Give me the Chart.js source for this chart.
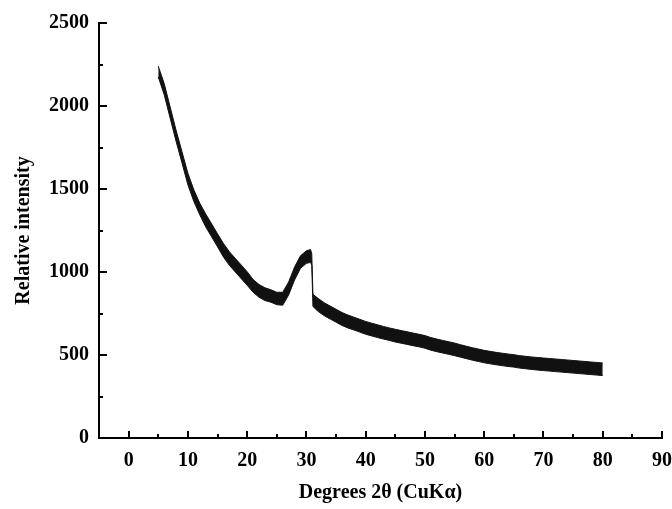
<!DOCTYPE html>
<html>
<head>
<meta charset="utf-8">
<script src="https://cdn.jsdelivr.net/npm/chart.js@4"></script>
<style>
  html, body { margin: 0; padding: 0; background: #fff; }
  #wrap { width: 672px; height: 509px; }
</style>
</head>
<body>
<div id="wrap"><canvas id="xrd"></canvas></div>
<script>
// 2-theta positions (degrees)
const twoTheta = [5, 6, 7, 8, 9, 10, 11, 12, 13, 14, 15, 16, 17, 18, 19, 20,
  21, 22, 23, 24, 25, 26, 27, 28, 29, 30, 30.7, 30.9, 31.1, 32, 33, 34, 35,
  36, 37, 38, 39, 40, 41, 42, 43, 44, 45, 46, 47, 48, 49, 50, 51, 52, 53, 54,
  55, 56, 57, 58, 59, 60, 61, 62, 63, 64, 65, 66, 67, 68, 69, 70, 71, 72, 73,
  74, 75, 76, 77, 78, 79, 80];

// upper edge of the noisy trace
const upperEdge = [2240, 2135, 1995, 1855, 1725, 1595, 1495, 1415, 1350, 1290,
  1230, 1172, 1122, 1082, 1042, 1002, 955, 925, 905, 893, 878, 878, 940, 1030,
  1098, 1128, 1135, 1110, 866, 840, 815, 795, 776, 756, 741, 728, 715, 702,
  692, 682, 672, 663, 655, 647, 640, 632, 625, 617, 605, 596, 588, 580, 572,
  562, 553, 544, 536, 528, 522, 516, 511, 506, 502, 496, 492, 488, 485, 482,
  479, 476, 473, 470, 467, 464, 461, 458, 455, 452];

// lower edge of the noisy trace
const lowerEdge = [2175, 2068, 1928, 1788, 1658, 1525, 1425, 1345, 1272, 1212,
  1152, 1090, 1040, 1000, 960, 920, 878, 848, 828, 818, 803, 800, 862, 952,
  1022, 1052, 1058, 1040, 792, 762, 737, 717, 698, 678, 663, 651, 638, 625,
  615, 605, 596, 588, 578, 571, 564, 556, 549, 541, 529, 520, 512, 504, 496,
  487, 478, 469, 461, 453, 447, 441, 436, 431, 427, 421, 417, 413, 409, 406,
  403, 400, 397, 394, 391, 388, 385, 382, 379, 376];

const xTickLabels = [0, 10, 20, 30, 40, 50, 60, 70, 80, 90];
const yTickLabels = [0, 500, 1000, 1500, 2000, 2500];

const toPoints = arr => arr.map((v, i) => ({ x: twoTheta[i], y: v }));

// inward pointing ticks, like the original plot
const inwardTicks = {
  id: 'inwardTicks',
  afterDraw(chart) {
    const { ctx, scales: { x, y } } = chart;
    ctx.save();
    ctx.strokeStyle = '#000';
    ctx.lineWidth = 2;
    ctx.beginPath();
    for (let v = 0; v <= 90; v += 5) {
      const px = Math.round(x.getPixelForValue(v));
      const len = v % 10 === 0 ? 7 : 4;
      ctx.moveTo(px, y.bottom);
      ctx.lineTo(px, y.bottom - len);
    }
    for (let v = 250; v <= 2500; v += 250) {
      const py = Math.round(y.getPixelForValue(v));
      const len = v % 500 === 0 ? 8 : 4;
      ctx.moveTo(x.left, py);
      ctx.lineTo(x.left + len, py);
    }
    ctx.stroke();
    ctx.restore();
  }
};

const tickFont = { family: 'Liberation Serif', size: 20, weight: 'bold' };
const titleFont = { family: 'Liberation Serif', size: 20, weight: 'bold' };

new Chart('xrd', {
  type: 'line',
  data: {
    datasets: [
      {
        label: 'upper',
        data: toPoints(upperEdge),
        borderColor: '#111',
        borderWidth: 1,
        pointRadius: 0,
        fill: false
      },
      {
        label: 'lower',
        data: toPoints(lowerEdge),
        borderColor: '#111',
        borderWidth: 1,
        backgroundColor: '#111',
        pointRadius: 0,
        fill: '-1'
      }
    ]
  },
  options: {
    responsive: true,
    maintainAspectRatio: false,
    animation: false,
    layout: { padding: { top: 23, right: 10, left: 0, bottom: 0 } },
    plugins: {
      legend: { display: false },
      tooltip: { enabled: false }
    },
    scales: {
      x: {
        type: 'linear',
        min: -5,
        max: 90,
        afterBuildTicks: s => { s.ticks = xTickLabels.map(v => ({ value: v })); },
        afterFit: s => { s.height = 71; s.paddingLeft = 0; s.paddingRight = 0; },
        grid: { display: false, drawTicks: false },
        border: { color: '#000', width: 2 },
        ticks: { color: '#000', font: tickFont, padding: 11, maxRotation: 0,
          callback: v => String(v) },
        title: {
          display: true,
          text: 'Degrees 2\u03b8 (CuK\u03b1)',
          color: '#000',
          font: titleFont,
          padding: { top: 6 }
        }
      },
      y: {
        min: 0,
        max: 2500,
        afterBuildTicks: s => { s.ticks = yTickLabels.map(v => ({ value: v })); },
        afterFit: s => { s.width = 99; s.paddingTop = 0; s.paddingBottom = 0; },
        grid: { display: false, drawTicks: false },
        border: { color: '#000', width: 2 },
        ticks: { color: '#000', font: tickFont, padding: 10,
          callback: v => String(v) },
        title: {
          display: true,
          text: 'Relative intensity',
          color: '#000',
          font: titleFont,
          padding: { top: 12, bottom: 0 }
        }
      }
    }
  },
  plugins: [inwardTicks]
});
</script>
</body>
</html>
